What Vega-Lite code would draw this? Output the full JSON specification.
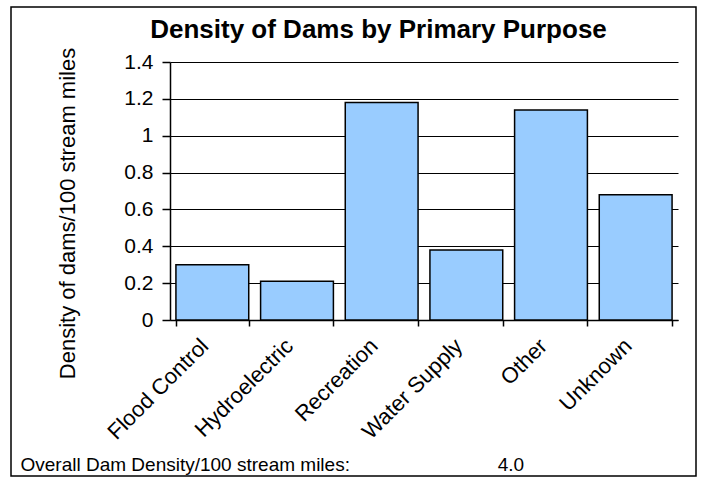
{
  "$schema": "https://vega.github.io/schema/vega-lite/v6.json",
  "width": 685,
  "height": 469,
  "autosize": {"type": "none"},
  "padding": {"left": 11, "top": 7, "right": 8, "bottom": 3},
  "background": "white",
  "title": {
    "text": "Density of Dams by Primary Purpose",
    "fontSize": 26,
    "fontWeight": "bold",
    "font": "Liberation Sans",
    "color": "black",
    "anchor": "middle",
    "frame": "group",
    "orient": "top",
    "offset": -57,
    "dx": 25,
    "baseline": "alphabetic"
  },
  "data": {
    "values": [
      {"purpose": "Flood Control", "density": 0.30},
      {"purpose": "Hydroelectric", "density": 0.21},
      {"purpose": "Recreation", "density": 1.18},
      {"purpose": "Water Supply", "density": 0.38},
      {"purpose": "Other", "density": 1.14},
      {"purpose": "Unknown", "density": 0.68}
    ]
  },
  "mark": {"type": "bar", "fill": "#99CCFF", "stroke": "black", "strokeWidth": 1.5},
  "encoding": {
    "x": {
      "field": "purpose",
      "type": "nominal",
      "sort": null,
      "scale": {"range": [159, 667], "paddingInner": 0.14, "paddingOuter": 0.07},
      "axis": {
        "title": "Overall Dam Density/100 stream miles:\u00a0\u00a0\u00a0\u00a0\u00a0\u00a0\u00a0\u00a0\u00a0\u00a0\u00a0\u00a0\u00a0\u00a0\u00a0\u00a0\u00a0\u00a0\u00a0\u00a0\u00a0\u00a0\u00a0\u00a0\u00a0\u00a0\u00a0\u00a04.0",
        "orient": "bottom",
        "offset": -156,
        "tickBand": "extent",
        "domainColor": "black",
        "domainWidth": 1.5,
        "tickColor": "black",
        "tickSize": 6,
        "tickWidth": 1.5,
        "labelAngle": -45,
        "labelAlign": "right",
        "labelBaseline": "middle",
        "labelFontSize": 22,
        "labelColor": "black",
        "labelPadding": 16,
        "labelOffset": -8,
        "labelLimit": 0,
        "grid": false,
        "titleX": 9,
        "titleY": 150,
        "titleAlign": "left",
        "titleBaseline": "alphabetic",
        "titleFontSize": 19,
        "titleFontWeight": "normal",
        "titleColor": "black"
      }
    },
    "y": {
      "field": "density",
      "type": "quantitative",
      "scale": {"domain": [0, 1.4], "range": [313, 55], "nice": false, "zero": true},
      "axis": {
        "title": "Density of dams/100 stream miles",
        "offset": -159,
        "values": [0, 0.2, 0.4, 0.6, 0.8, 1, 1.2, 1.4],
        "format": ".1~f",
        "grid": true,
        "gridColor": "black",
        "gridWidth": 1.2,
        "domainColor": "black",
        "domainWidth": 1.5,
        "tickColor": "black",
        "tickSize": 8,
        "tickWidth": 1.5,
        "labelFontSize": 21,
        "labelPadding": 9,
        "labelColor": "black",
        "titleX": -103,
        "titleY": 206,
        "titleAngle": -90,
        "titleAlign": "center",
        "titleBaseline": "middle",
        "titleFontSize": 22,
        "titleFontWeight": "normal",
        "titleColor": "black"
      }
    }
  },
  "config": {
    "view": {"stroke": "black", "strokeWidth": 1.5, "fill": "white"},
    "font": "Liberation Sans"
  }
}
